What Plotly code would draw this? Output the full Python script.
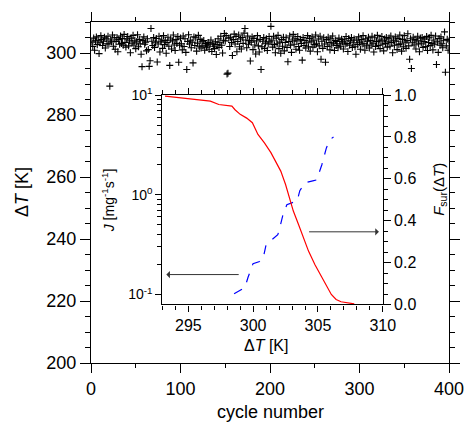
import plotly.graph_objects as go

# ---------------- data ----------------
cycle_number = list(range(1, 401))
delta_T = [
    303.5, 302.1, 304.8, 300.9, 303.9, 305.2, 302.7, 304.1, 299.8, 303.3, 305.6, 304.4, 302.4, 303.8, 305.1, 301.6, 304.6, 303.0, 305.4, 302.9,
    289.3, 304.2, 303.6, 305.8, 302.2, 304.9, 301.2, 303.7, 305.0, 300.4, 304.3, 302.8, 305.5, 303.1, 304.7, 302.5, 306.0, 303.4, 301.9, 304.5,
    305.3, 302.3, 303.9, 300.1, 304.8, 303.2, 305.7, 302.6, 304.1, 301.4, 303.6, 305.9, 302.0, 304.4, 303.0, 299.6, 295.6, 304.0, 305.2, 302.8,
    303.5, 300.7, 304.6, 301.1, 295.7, 297.5, 307.9, 303.8, 302.4, 305.0, 301.8, 303.3, 304.7, 297.1, 302.9, 305.4, 300.3, 303.6, 304.2, 301.5,
    305.6, 302.7, 304.0, 299.9, 303.4, 305.1, 302.2, 296.0, 304.5, 301.3, 303.9, 305.8, 302.6, 300.8, 304.3, 303.1, 305.3, 297.0, 302.5, 304.8,
    303.0, 301.0, 305.5, 302.1, 304.6, 300.2, 294.7, 303.7, 305.9, 302.9, 304.1, 301.7, 303.5, 296.8, 305.2, 302.4, 304.9, 300.6, 303.2, 305.7,
    302.0, 304.4, 301.6, 303.8, 302.3, 304.0, 300.9, 303.1, 301.9, 302.6, 303.4, 301.2, 302.8, 304.2, 300.5, 303.0, 302.2, 301.4, 303.6, 299.5,
    302.7, 304.6, 301.8, 303.3, 305.4, 302.5, 300.0, 304.1, 306.3, 303.9, 305.6, 293.2, 293.5, 304.8, 302.1, 305.1, 303.4, 299.2, 304.3, 306.1,
    302.9, 305.3, 300.4, 303.7, 305.8, 302.0, 304.5, 301.3, 305.0, 303.1, 306.4, 307.9, 304.2, 301.7, 305.5, 302.8, 304.0, 297.4, 303.5, 305.2,
    301.1, 304.7, 302.6, 299.7, 303.9, 305.6, 302.3, 300.3, 304.4, 294.7, 302.0, 303.8, 305.0, 301.5, 303.2, 304.6, 300.8, 302.9, 305.3, 303.6,
    308.6, 304.1, 301.9, 305.4, 302.7, 300.1, 304.8, 303.0, 305.7, 301.4, 303.5, 299.9, 304.3, 302.2, 305.1, 300.7, 303.4, 304.9, 301.8, 297.2,
    303.7, 305.5, 302.5, 300.2, 304.2, 306.0, 302.8, 304.6, 301.2, 303.9, 305.3, 302.1, 300.9, 304.4, 303.1, 297.7, 305.0, 302.4, 304.0, 301.6,
    303.3, 305.6, 302.0, 304.7, 300.6, 303.6, 305.2, 301.9, 304.1, 302.7, 305.8, 303.0, 300.4, 304.5, 302.3, 305.4, 298.0, 303.8, 301.5, 304.9,
    302.9, 297.0, 304.3, 302.1, 305.1, 303.4, 301.0, 304.6, 302.6, 305.5, 303.2, 300.8, 304.0, 302.4, 303.7, 301.7, 304.8, 303.0, 302.2, 304.4,
    303.6, 301.3, 304.2, 302.8, 305.3, 303.1, 300.5, 304.7, 302.5, 303.9, 305.0, 301.8, 303.3, 304.5, 302.0, 299.6, 304.1, 302.7, 305.2, 303.5,
    301.2, 304.3, 302.9, 305.6, 303.0, 300.9, 304.6, 302.3, 303.8, 305.1, 301.6, 304.0, 302.6, 305.4, 303.2, 300.3, 304.9, 302.1, 303.7, 305.7,
    302.4, 304.2, 301.4, 303.9, 305.3, 302.8, 300.7, 304.5, 303.1, 305.0, 301.9, 303.6, 304.8, 302.2, 305.5, 303.4, 300.1, 304.1, 302.5, 305.2,
    303.8, 301.1, 304.7, 302.7, 305.8, 303.0, 300.6, 304.4, 302.0, 305.6, 303.5, 301.5, 304.0, 306.2, 302.3, 298.0, 304.6, 295.0, 303.3, 305.1,
    302.6, 304.3, 301.3, 303.9, 305.4, 302.9, 300.4, 304.8, 303.2, 305.0, 301.8, 303.7, 304.5, 302.1, 305.3, 300.8, 303.4, 304.9, 302.4, 305.7,
    303.1, 301.0, 304.2, 302.8, 305.5, 296.3, 303.6, 300.2, 304.7, 302.5, 305.2, 303.0, 301.7, 304.1, 306.8, 293.8, 302.3, 304.4, 300.9, 303.9,
]

# inset: survival function F_sur(dT) (right axis)
fsur_T = [293.2, 296.7, 297.35, 298.36, 298.6, 299.0, 299.5, 299.94, 300.37, 300.87,
          301.37, 301.75, 302.13, 302.5, 302.8, 303.1, 303.5, 303.9, 304.27, 304.77,
          305.27, 305.65, 306.03, 306.4, 306.78, 307.8]
fsur_vals = [0.995, 0.971, 0.955, 0.947, 0.93, 0.908, 0.89, 0.868, 0.812, 0.772,
             0.725, 0.677, 0.637, 0.573, 0.51, 0.446, 0.382, 0.318, 0.255, 0.19,
             0.135, 0.088, 0.048, 0.024, 0.013, 0.003]

# inset: rate J (left, log axis)
J_T = [298.53, 298.99, 299.36, 299.6, 299.99, 300.5, 300.75, 301.0, 301.4, 301.9,
       302.0, 302.3, 302.6, 303.0, 303.4, 303.6, 304.0, 304.6, 304.9, 305.3,
       305.65, 305.9, 306.2]
J_vals = [0.102, 0.110, 0.117, 0.148, 0.204, 0.214, 0.224, 0.316, 0.347, 0.398,
          0.437, 0.631, 0.794, 0.832, 0.871, 1.10, 1.32, 1.38, 1.41, 2.0,
          2.95, 3.55, 3.80]

log_minor = [0.2, 0.3, 0.4, 0.5, 0.6, 0.7, 0.8, 0.9, 2, 3, 4, 5, 6, 7, 8, 9]

FONT = "Liberation Sans, Arial, Helvetica, sans-serif"

fig = go.Figure()

fig.add_trace(go.Scatter(
    x=cycle_number, y=delta_T, mode="markers",
    marker=dict(symbol="cross-thin", size=5, color="black",
                line=dict(width=1.1, color="black")),
    xaxis="x", yaxis="y", showlegend=False))

fig.add_trace(go.Scatter(
    x=fsur_T, y=fsur_vals, mode="lines",
    line=dict(color="#ff0000", width=1.2),
    xaxis="x2", yaxis="y3", showlegend=False))

fig.add_trace(go.Scatter(
    x=J_T, y=J_vals, mode="lines",
    line=dict(color="#0000ff", width=1.2, dash="dash"),
    xaxis="x2", yaxis="y2", showlegend=False))

ix0, ix1 = 0.1995, 0.815
iy0, iy1 = 0.1716, 0.7857

fig.update_layout(
    width=476, height=424,
    margin=dict(l=91, r=19, t=21, b=61),
    paper_bgcolor="white", plot_bgcolor="white",
    font=dict(family=FONT, size=18, color="black"),
    xaxis=dict(
        range=[0, 400], dtick=100, tick0=0,
        showline=True, linecolor="black", linewidth=1.2, mirror="ticks",
        ticks="outside", ticklen=9, tickwidth=1, tickcolor="black",
        minor=dict(dtick=50, ticklen=4, ticks="outside", tickcolor="black"),
        showgrid=False, zeroline=False,
        tickfont=dict(size=18),
    ),
    yaxis=dict(
        range=[200, 310], dtick=20, tick0=200,
        showline=True, linecolor="black", linewidth=1.2, mirror="ticks",
        ticks="outside", ticklen=10, tickwidth=1, tickcolor="black",
        minor=dict(dtick=5, ticklen=5, ticks="outside", tickcolor="black"),
        showgrid=False, zeroline=False,
        tickfont=dict(size=18),
    ),
    xaxis2=dict(
        domain=[ix0, ix1], anchor="y2",
        range=[293, 310], dtick=5, tick0=295,
        showline=True, linecolor="black", linewidth=1.2, mirror="ticks",
        ticks="outside", ticklen=6, tickwidth=1, tickcolor="black",
        minor=dict(dtick=1, ticklen=4, ticks="outside", tickcolor="black"),
        showgrid=False, zeroline=False,
        tickfont=dict(size=16),
    ),
    yaxis2=dict(
        domain=[iy0, iy1], anchor="x2", type="log",
        range=[-1.1, 1.0],
        tickvals=[0.1, 1, 10],
        ticktext=["10<sup>-1</sup>", "10<sup>0</sup>", "10<sup>1</sup>"],
        showline=True, linecolor="black", linewidth=1.2, mirror=False,
        ticks="outside", ticklen=6, tickwidth=1, tickcolor="black",
        minor=dict(tickvals=log_minor, ticklen=4, ticks="outside", tickcolor="black"),
        showgrid=False, zeroline=False,
        tickfont=dict(size=14),
    ),
    yaxis3=dict(
        domain=[iy0, iy1], anchor="x2", overlaying="y2", side="right",
        range=[0, 1], dtick=0.2, tick0=0, tickformat=".1f",
        showline=True, linecolor="black", linewidth=1.2,
        ticks="outside", ticklen=7, tickwidth=1, tickcolor="black",
        minor=dict(dtick=0.05, ticklen=4, ticks="outside", tickcolor="black"),
        showgrid=False, zeroline=False,
        tickfont=dict(size=16),
    ),
)

# titles (centered at given paper positions)
def title(text, x, y, size, angle=0):
    fig.add_annotation(text=text, xref="paper", yref="paper", x=x, y=y,
                       xanchor="center", yanchor="middle", textangle=angle,
                       showarrow=False, font=dict(size=size))

title("Δ<i>T</i> [K]", -0.194, 0.5, 18, -90)
title("cycle number", 0.5, -0.145, 18)
title("<i>J</i> [mg<sup>-1</sup>s<sup>-1</sup>]", 0.0464, 0.476, 14, -90)
title("<i>F</i><sub>sur</sub>(Δ<i>T</i>)", 0.975, 0.508, 15, -90)
title("Δ<i>T</i> [K]", 0.489, 0.05, 16)

# arrows
fig.add_annotation(x=293.3, y=-0.8, xref="x2", yref="y2",
                   ax=299.0, ay=-0.8, axref="x2", ayref="y2",
                   text="", showarrow=True, arrowhead=1, arrowsize=1.2,
                   arrowwidth=1, arrowcolor="#333333")
fig.add_annotation(x=309.7, y=0.347, xref="x2", yref="y3",
                   ax=304.2, ay=0.347, axref="x2", ayref="y3",
                   text="", showarrow=True, arrowhead=1, arrowsize=1.2,
                   arrowwidth=1, arrowcolor="#333333")

fig.write_html("out.html", config={"displayModeBar": False},
               post_script="document.body.style.margin='0px';document.body.style.padding='0px';")
